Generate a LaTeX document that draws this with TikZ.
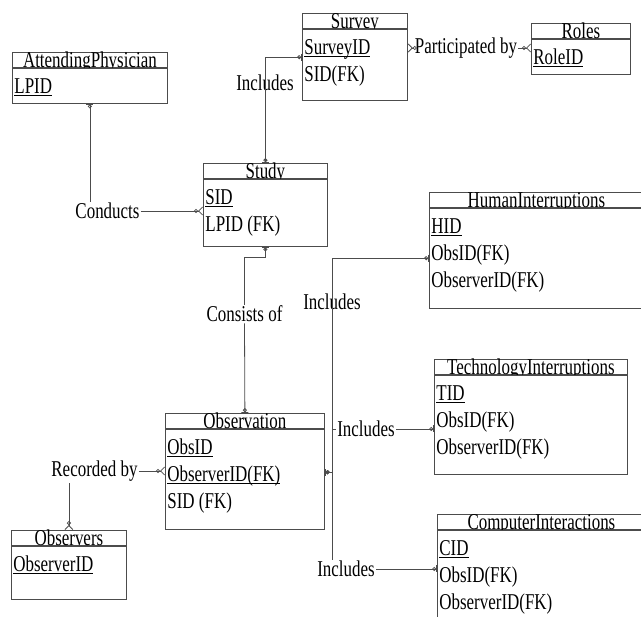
\documentclass[tikz,border=0pt]{standalone}
\usepackage{fontspec}
\setmainfont[FakeStretch=0.75]{Liberation Serif}
\usepackage{xcolor}
\usetikzlibrary{arrows.meta}

\definecolor{erline}{gray}{0.3}
\newcommand{\pk}[1]{\underline{\smash{#1}}}
\newcommand{\erfont}{\fontsize{22.6}{27}\selectfont}

\begin{document}
\begin{tikzpicture}[x=1pt, y=-1pt, line width=0.8pt,
    every node/.style={font=\erfont},
    tick/.tip={Bar[width=7pt]},
    ring/.tip={Circle[open,length=4pt]},
    crow/.tip={Straight Barb[reversed,length=4pt,width=8pt]},
    head/.style={draw=erline, anchor=north west, minimum height=15pt, inner sep=0pt, text height=14.5pt, text depth=0pt},
    body/.style={draw=erline, fill=white, anchor=north west, inner sep=0pt},
    attr/.style={anchor=base west, inner sep=0pt},
    rel/.style={inner sep=1pt},
    link/.style={draw=erline}]
    \useasboundingbox (0,0) rectangle (641,617);

    % entities
    \node[head, minimum width=155pt] (ap) at (12,52) {AttendingPhysician};
    \node[body, minimum width=155pt, minimum height=35pt] (ap-b) at (ap.south west) {};
    \node[attr] (ap-1) at ([shift={(2,26)}]ap-b.north west) {\pk{LPID}};

    \node[head, minimum width=105pt] (survey) at (302,13) {Survey};
    \node[body, minimum width=105pt, minimum height=71pt] (survey-b) at (survey.south west) {};
    \foreach \row [count=\i] in {\pk{SurveyID}, SID(FK)}
        \node[attr] (survey-\i) at ([shift={(2,{27*\i-1})}]survey-b.north west) {\row};

    \node[head, minimum width=99pt] (roles) at (531,23) {Roles};
    \node[body, minimum width=99pt, minimum height=35pt] (roles-b) at (roles.south west) {};
    \node[attr] (roles-1) at ([shift={(2,26)}]roles-b.north west) {\pk{RoleID}};

    \node[head, minimum width=124pt] (study) at (203,163) {Study};
    \node[body, minimum width=124pt, minimum height=67pt] (study-b) at (study.south west) {};
    \foreach \row [count=\i] in {\pk{SID}, LPID (FK)}
        \node[attr] (study-\i) at ([shift={(2,{27*\i-1})}]study-b.north west) {\row};

    \node[head, minimum width=214pt] (hi) at (429,192) {HumanInterruptions};
    \node[body, minimum width=214pt, minimum height=100pt] (hi-b) at (hi.south west) {};
    \foreach \row [count=\i] in {\pk{HID}, ObsID(FK), ObserverID(FK)}
        \node[attr] (hi-\i) at ([shift={(2,{27*\i-1})}]hi-b.north west) {\row};

    \node[head, minimum width=193pt] (ti) at (434,359) {TechnologyInterruptions};
    \node[body, minimum width=193pt, minimum height=99pt] (ti-b) at (ti.south west) {};
    \foreach \row [count=\i] in {\pk{TID}, ObsID(FK), ObserverID(FK)}
        \node[attr] (ti-\i) at ([shift={(2,{27*\i-1})}]ti-b.north west) {\row};

    \node[head, minimum width=159pt] (obs) at (165,413) {Observation};
    \node[body, minimum width=159pt, minimum height=100pt] (obs-b) at (obs.south west) {};
    \foreach \row [count=\i] in {\pk{ObsID}, \pk{ObserverID(FK)}, SID (FK)}
        \node[attr] (obs-\i) at ([shift={(2,{27*\i-1})}]obs-b.north west) {\row};

    \node[head, minimum width=115pt] (observers) at (11,530) {Observers};
    \node[body, minimum width=115pt, minimum height=53pt] (observers-b) at (observers.south west) {};
    \node[attr] (observers-1) at ([shift={(2,26)}]observers-b.north west) {\pk{ObserverID}};

    \node[head, minimum width=208pt] (ci) at (437,514) {ComputerInteractions};
    \node[body, minimum width=208pt, minimum height=110pt] (ci-b) at (ci.south west) {};
    \foreach \row [count=\i] in {\pk{CID}, ObsID(FK), ObserverID(FK)}
        \node[attr] (ci-\i) at ([shift={(2,{27*\i-1})}]ci-b.north west) {\row};

    % relationship labels
    \node[rel] (conducts) at (107.5,211) {Conducts};
    \node[rel] (partby) at (466,48) {Participated by};
    \node[rel] (incl-sv) at (265,82.5) {Includes};
    \node[rel] (consists) at (244.5,314) {Consists of};
    \node[rel] (recorded) at (94.5,471) {Recorded by};
    \node[rel] (incl-hi) at (332,302) {Includes};
    \node[rel] (incl-ti) at (366,429) {Includes};
    \node[rel] (incl-ci) at (346,569) {Includes};

    % connectors
    \draw[link, {tick[]ring[]}-] (ap-b.south) -- (ap-b.south |- conducts.north);
    \draw[link, -{ring[]crow[]}] (conducts.east) -- (conducts.east -| study-b.west);

    \draw[link, {crow[]ring[]}-] (survey-b.east |- partby) -- (partby.west);
    \draw[link, -{ring[]crow[]}] (partby.east) -- (partby.east -| roles-b.west);

    \draw[link, {tick[]ring[]}-{ring[]tick[]}] ([yshift=7.5]survey-b.west) -| (study.north);

    \draw[link, {tick[]ring[]}-] (study-b.south) -- ([yshift=-11]study-b.south) -| (consists.north);
    \draw[link, -{ring[]tick[]}] (consists.south) -- (obs.north);

    \draw[link, {crow[]ring[]}-] (observers.north) -- (observers.north |- recorded.south);
    \draw[link, -{ring[]crow[]}] (recorded.east) -- (recorded.east -| obs-b.west);

    \coordinate (bus) at ([shift={(8,-7)}]obs-b.east);
    \draw[link, {tick[]ring[]}-{ring[]tick[]}] (bus -| obs-b.east) -- (bus) |- (hi-b.west);
    \draw[link, {tick[]ring[]}-] (bus -| obs-b.east) -- (bus) |- (incl-ti.west);
    \draw[link, -{ring[]tick[]}] (incl-ti.east) -- (incl-ti.east -| ti-b.west);
    \draw[link, {tick[]ring[]}-] (bus -| obs-b.east) -- (bus) -- (bus |- incl-ci.north);
    \draw[link, -{ring[]tick[]}] (incl-ci.east) -- (incl-ci.east -| ci-b.west);
\end{tikzpicture}
\end{document}
